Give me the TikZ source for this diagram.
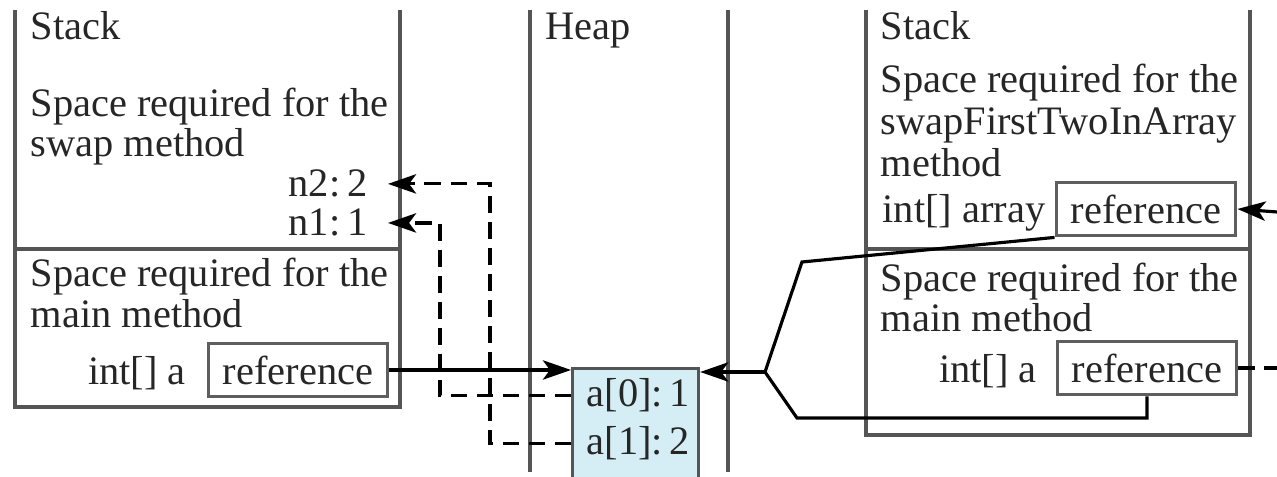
\documentclass[tikz,border=0pt]{standalone}
\usepackage{fontspec}
\setmainfont{Liberation Serif}
\usepackage{xcolor}
\usepackage{tikz}
\usetikzlibrary{arrows.meta,positioning,calc}
\definecolor{FrameGray}{HTML}{555555}
\definecolor{BoxGray}{HTML}{5E5E5E}
\definecolor{InkDark}{HTML}{262626}
\definecolor{HeapBlue}{HTML}{D5EEF6}
\tikzset{
  lbl/.style={font=\fontsize{11.5}{12}\selectfont,text=InkDark,inner sep=0pt,anchor=base west},
  stackline/.style={draw=FrameGray,line width=0.9pt},
  refcell/.style={draw=BoxGray,line width=1.1pt,fill=white,minimum width=17.9mm,minimum height=5.3mm,
    inner sep=0pt,font=\fontsize{11.5}{12}\selectfont,text=InkDark},
  wire/.style={line width=0.9pt,black},
  ptr/.style={wire,-{Stealth[length=8pt,width=5.5pt,inset=2pt]}},
  dptr/.style={ptr,dash pattern=on 4.6pt off 2.8pt}}
\newcommand{\stackframe}[4]{%
  \draw[stackline](#1,10) |- (#2,#3) -- (#2,10);
  \draw[stackline](#1,#4) -- (#2,#4);}

\begin{document}
\begin{tikzpicture}[x=0.1mm,y=-0.1mm]
  \useasboundingbox (0,0) rectangle (1277,477);
  % Left stack
  \stackframe{15}{400}{407}{249}
  \node[lbl] (lstk) at (30,40) {Stack};
  \node[lbl] (lsw1) at (30,117) {Space required for the};
  \node[lbl] (lsw2) at (30,157) {swap method};
  \node[lbl,anchor=base east,inner xsep=2mm] (n2) at (388,197) {n2:\,2};
  \node[lbl,anchor=base east,inner xsep=2mm] (n1) at (388,236) {n1:\,1};
  \node[lbl] (lmn1) at (30,287) {Space required for the};
  \node[lbl] (lmn2) at (30,328) {main method};
  \node[refcell] (lref) at (298,370) {reference};
  \node[lbl,anchor=base east] (la) at ([xshift=-2mm]lref.base west) {int[] a};
  % Heap
  \draw[stackline] (530,10) -- (530,472);
  \draw[stackline] (728,10) -- (728,472);
  \node[lbl] (heap) at (545,40) {Heap};
  \node[draw=FrameGray,line width=0.9pt,fill=HeapBlue,anchor=north west,
    minimum width=12.6mm,minimum height=12mm,inner sep=0pt] (arr) at (571,367) {};
  \node[lbl] (a0) at (586,407) {a[0]:\,1};
  \node[lbl] (a1) at (586,455) {a[1]:\,2};
  % Right stack
  \stackframe{866}{1250}{435}{249}
  \node[lbl] (rstk) at (880,40) {Stack};
  \node[lbl] (rsw1) at (880,93) {Space required for the};
  \node[lbl] (rsw2) at (880,135) {swapFirstTwoInArray};
  \node[lbl] (rsw3) at (880,177) {method};
  \node[refcell] (uref) at (1146,209) {reference};
  \node[lbl] (rarr) at (882,223) {int[] array};
  \node[lbl] (rmn1) at (880,292) {Space required for the};
  \node[lbl] (rmn2) at (880,332) {main method};
  \node[refcell] (rref) at (1147,368) {reference};
  \node[lbl,anchor=base east] (ra) at ([xshift=-1.8mm]rref.base west) {int[] a};
  % Pointers
  \coordinate (fork) at (765,372);
  \coordinate (c1) at (440,0);
  \coordinate (c2) at (490,0);
  \coordinate (rin) at (1277,212);
  \coordinate (rout) at (1277,368);
  \draw[ptr] (lref.east) -- (lref.east -| arr.west);
  \draw[ptr] (fork) -- (fork -| arr.east);
  \draw[wire] (uref.south west) -- (802,262) -- (fork) -- (797,418) -| (rref.south);
  \draw[ptr] (rin) -- (uref.east);
  \draw[wire,dash pattern=on 4.6pt off 2.8pt] (rref.east) -- (rout);
  \draw[dptr] (arr.west |- a0) -| (c1 |- n1.east) -- (n1.east);
  \draw[dptr] (arr.west |- a1) -| (c2 |- n2.east) -- (n2.east);
\end{tikzpicture}
\end{document}
